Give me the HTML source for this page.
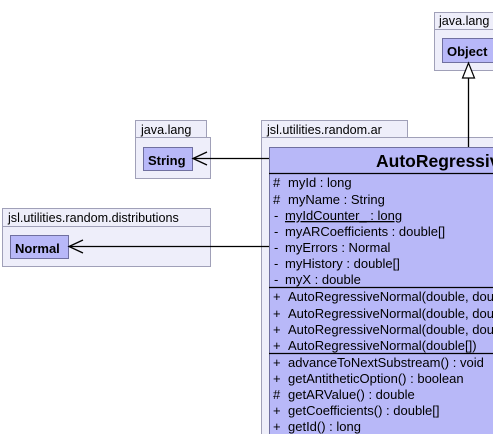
<!DOCTYPE html>
<html><head><style>
html,body{margin:0;padding:0;background:#fff;width:493px;height:434px;overflow:hidden}
svg text{font-family:"Liberation Sans",sans-serif;fill:#000}
</style></head><body>
<svg width="493" height="434" xmlns="http://www.w3.org/2000/svg">
<g stroke="#a0a0b8" stroke-width="1" fill="#eeeefa">
<rect x="434.5" y="12.5" width="70" height="17"/>
<rect x="434.5" y="29.5" width="70" height="41"/>
<rect x="135.5" y="120.5" width="71" height="17"/>
<rect x="135.5" y="137.5" width="75" height="41"/>
<rect x="2.5" y="208.5" width="208" height="18"/>
<rect x="2.5" y="226.5" width="208" height="40"/>
<rect x="261.5" y="120.5" width="146" height="17"/>
<rect x="261.5" y="137.5" width="240" height="300"/>
</g>
<g fill="#b8b8f8" stroke="#7070a0">
<rect x="442.5" y="38.5" width="60" height="24"/>
<rect x="143.5" y="147.5" width="49" height="23"/>
<rect x="10.5" y="235.5" width="58" height="23"/>
<rect x="269.5" y="147.5" width="240" height="300"/>
</g>
<g font-size="12.6">
<text x="439" y="25">java.lang</text>
<text x="141" y="134">java.lang</text>
<text x="8" y="222">jsl.utilities.random.distributions</text>
<text x="267" y="134">jsl.utilities.random.ar</text>
</g>
<g font-size="13" font-weight="bold">
<text x="447" y="56">Object</text>
<text x="148" y="165">String</text>
<text x="15" y="253">Normal</text>
</g>
<text x="376" y="167" font-size="17.5" font-weight="bold">AutoRegressiveNormal</text>
<g stroke="#000" stroke-width="1.3" fill="none">
<line x1="269" y1="173.5" x2="493" y2="173.5"/>
<line x1="269" y1="287.5" x2="493" y2="287.5"/>
<line x1="269" y1="353.5" x2="493" y2="353.5"/>
<line x1="468.5" y1="78" x2="468.5" y2="147"/>
<line x1="193" y1="158.5" x2="269" y2="158.5"/>
<polyline points="207,152 193,158.5 207,165"/>
<line x1="69" y1="246.5" x2="269" y2="246.5"/>
<polyline points="83,240 69,246.5 83,253"/>
</g>
<polygon points="468.5,63 462.5,78 474.5,78" fill="#fff" stroke="#000" stroke-width="1.2"/>
<g font-size="13">
<text x="273" y="187">#</text><text x="288" y="187">myId : long</text>
<text x="273" y="204">#</text><text x="288" y="204">myName : String</text>
<text x="274" y="220">-</text><text x="285" y="220" text-decoration="underline">myIdCounter_ : long</text>
<text x="274" y="236">-</text><text x="285" y="236">myARCoefficients : double[]</text>
<text x="274" y="252">-</text><text x="285" y="252">myErrors : Normal</text>
<text x="274" y="268">-</text><text x="285" y="268">myHistory : double[]</text>
<text x="274" y="284">-</text><text x="285" y="284">myX : double</text>
<text x="273" y="301">+</text><text x="288" y="301">AutoRegressiveNormal(double, double, double)</text>
<text x="273" y="318">+</text><text x="288" y="318">AutoRegressiveNormal(double, double, double)</text>
<text x="273" y="334">+</text><text x="288" y="334">AutoRegressiveNormal(double, double, double)</text>
<text x="273" y="350">+</text><text x="288" y="350">AutoRegressiveNormal(double[])</text>
<text x="273" y="367">+</text><text x="288" y="367">advanceToNextSubstream() : void</text>
<text x="273" y="383">+</text><text x="288" y="383">getAntitheticOption() : boolean</text>
<text x="273" y="399">#</text><text x="288" y="399">getARValue() : double</text>
<text x="273" y="415">+</text><text x="288" y="415">getCoefficients() : double[]</text>
<text x="273" y="431">+</text><text x="288" y="431">getId() : long</text>
</g>
</svg>
</body></html>
